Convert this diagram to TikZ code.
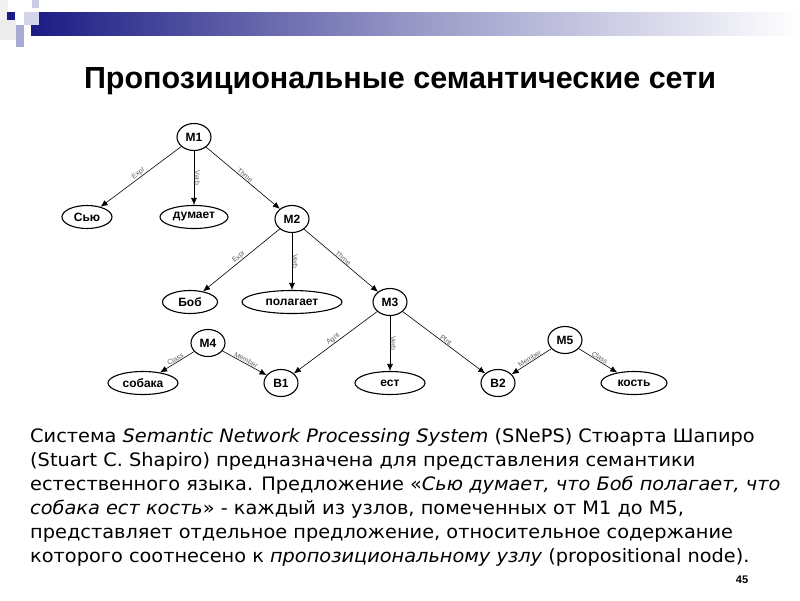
\documentclass[tikz,border=0pt]{standalone}
\usepackage{fontspec}
\setmainfont{Liberation Sans}
\newfontfamily\bodyfont[FakeStretch=1.045]{DejaVu Sans}
\usetikzlibrary{positioning,arrows.meta,shapes.geometric}
\definecolor{marino}{HTML}{1B1B84}
\definecolor{lila}{HTML}{A9A9D4}
\definecolor{gris}{HTML}{606060}

\begin{document}
\begin{tikzpicture}[x=1pt,y=-1pt,font=\bfseries\fontsize{12}{13}\selectfont,
        n/.style={draw,ellipse,line width=1.1pt,inner sep=1pt,minimum height=23pt},
        m/.style={n,minimum width=34pt,minimum height=27pt},
        f/.style={-{Latex[length=7pt,width=6pt]},line width=0.6pt},
        r/.style={midway,above=0pt,sloped,inner sep=0.5pt,font=\mdseries\fontsize{7}{7}\selectfont,text=gris}]
  \useasboundingbox (0,0) rectangle (800,600);
  % cabecera
  \shade[left color=marino,right color=white,middle color=marino!45] (31,12) rectangle (800,35);
  \fill[gray!12] (0,0) rectangle (8,20);
  \fill[lila!60] (32,0) rectangle (39,8);
  \fill[lila!50] (24,12) rectangle (39,25);
  \fill[marino] (7,12) rectangle (15,24);
  \fill[lila] (16,25) rectangle (24,47);
  \fill[gray!15] (0,20) rectangle (16,40);
  \node[font=\bfseries\fontsize{30.5}{32}\selectfont] (titulo) at (400,81)
    {Пропозициональные семантические сети};
  % red
  \node[m] (m1) at (194,137) {M1};
  \node[n,minimum width=50pt] (sju) at (87,217) {Сью};
  \node[n,minimum width=68pt] (dum) at (194,217) {думает};
  \node[m] (m2) at (292,219) {M2};
  \node[n,minimum width=55pt] (bob) at (190,302) {Боб};
  \node[n,minimum width=100pt] (pol) at (292,302) {полагает};
  \node[m] (m3) at (390,302) {M3};
  \node[m] (m4) at (208,343) {M4};
  \node[n,minimum width=70pt] (sob) at (143,383) {собака};
  \node[m] (b1) at (281,383) {B1};
  \node[n,minimum width=70pt] (est) at (390,383) {ест};
  \node[m] (b2) at (498,383) {B2};
  \node[m] (m5) at (565,340) {M5};
  \node[n,minimum width=66pt] (kost) at (634,383) {кость};
  \draw[f] (m1) -- (sju) node[r] {Expr};
  \draw[f] (m1) -- (dum) node[r] {Verb};
  \draw[f] (m1) -- (m2) node[r] {Thme};
  \draw[f] (m2) -- (bob) node[r] {Expr};
  \draw[f] (m2) -- (pol) node[r] {Verb};
  \draw[f] (m2) -- (m3) node[r] {Thme};
  \draw[f] (m3) -- (b1) node[r] {Agnt};
  \draw[f] (m3) -- (est) node[r] {Verb};
  \draw[f] (m3) -- (b2) node[r] {Ptnt};
  \draw[f] (m4) -- (sob) node[r] {Class};
  \draw[f] (m4) -- (b1) node[r] {Member};
  \draw[f] (m5) -- (b2) node[r] {Member};
  \draw[f] (m5) -- (kost) node[r] {Class};
  % texto
  \node[anchor=north west,align=left,inner sep=0pt,
        font=\bodyfont\fontsize{18.5}{24}\selectfont] (texto) at (30,428)
    {Система \textit{Semantic Network Processing System} (SNePS) Стюарта Шапиро\\
     (Stuart C. Shapiro) предназначена для представления семантики\\
     естественного языка. Предложение «\textit{Сью думает, что Боб полагает, что}\\
     \textit{собака ест кость}» - каждый из узлов, помеченных от М1 до М5,\\
     представляет отдельное предложение, относительное содержание\\
     которого соотнесено к \textit{пропозициональному узлу} (propositional node).};
  \node[font=\bfseries\fontsize{11}{12}\selectfont] (pag) at (742,580) {45};
\end{tikzpicture}
\end{document}
